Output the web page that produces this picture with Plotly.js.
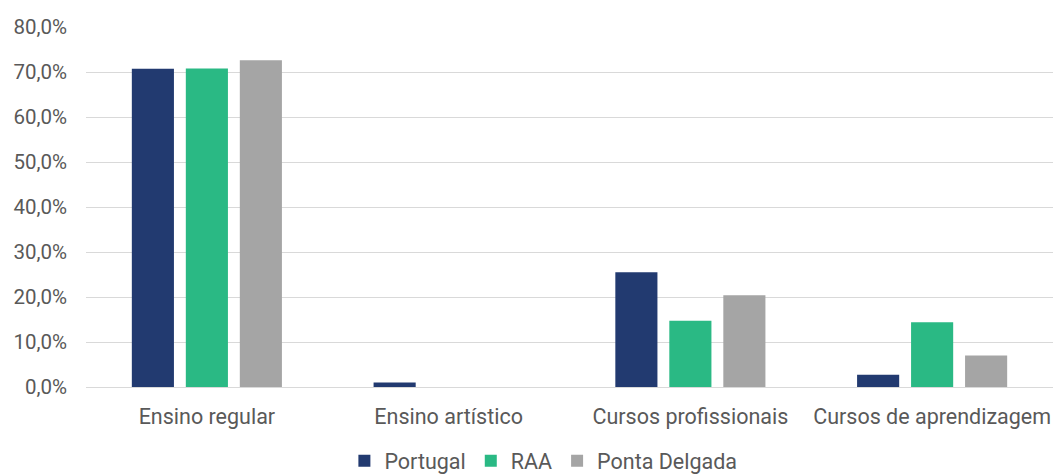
<!DOCTYPE html>
<html>
<head>
<meta charset="utf-8">
<script src="https://cdn.plot.ly/plotly-3.0.1.min.js"></script>
<style>html,body{margin:0;padding:0;background:#fff;}#chart{width:1053px;height:475px;}</style>
</head>
<body>
<div id="chart"></div>
<script>
const categories = ["Ensino regular", "Ensino artístico", "Cursos profissionais", "Cursos de aprendizagem"];
const portugal = [70.7, 1.0, 25.5, 2.7];
const raa = [70.8, 0, 14.7, 14.4];
const pontaDelgada = [72.6, 0, 20.4, 7.0];
const seriesNames = ["Portugal", "RAA", "Ponta Delgada"];
const colors = ["#223a70", "#2ab984", "#a5a5a5"];
const tickVals = [0, 10, 20, 30, 40, 50, 60, 70, 80];
const tickText = tickVals.map(v => v.toFixed(1).replace(".", ",") + "%");

const fam = "Roboto, 'DejaVu Sans', sans-serif";
const xFont = {family: fam, size: 21.5, color: "#595959"};
const yFont = {family: fam, size: 20.5, color: "#595959"};
const data = [portugal, raa, pontaDelgada].map((vals, i) => ({
  type: "bar",
  name: seriesNames[i],
  x: categories,
  y: vals,
  marker: {color: colors[i]},
  hoverinfo: "none"
}));

const layout = {
  width: 1053, height: 475,
  margin: {l: 86, r: 0, t: 27, b: 88, autoexpand: false},
  paper_bgcolor: "#fff", plot_bgcolor: "#fff",
  font: xFont,
  barmode: "group",
  bargap: 0.33,
  bargroupgap: 0.22,
  xaxis: {
    type: "category",
    tickfont: xFont,
    showline: false, showgrid: false, ticks: "",
    ticklabelstandoff: 14
  },
  yaxis: {
    range: [0, 80],
    tickmode: "array",
    tickvals: tickVals,
    ticktext: tickText,
    tickfont: yFont,
    showgrid: true, gridcolor: "#d9d9d9", gridwidth: 1,
    zeroline: true, zerolinecolor: "#d9d9d9", zerolinewidth: 1,
    showline: false, ticks: "",
    ticklabelstandoff: 18
  },
  showlegend: true,
  legend: {
    orientation: "h",
    xref: "paper", yref: "paper",
    x: 0.473, xanchor: "center",
    y: -0.148, yanchor: "top",
    font: xFont,
    itemwidth: 30,
    traceorder: "normal"
  }
};

Plotly.newPlot("chart", data, layout, {staticPlot: true, displayModeBar: false});
</script>
</body>
</html>
